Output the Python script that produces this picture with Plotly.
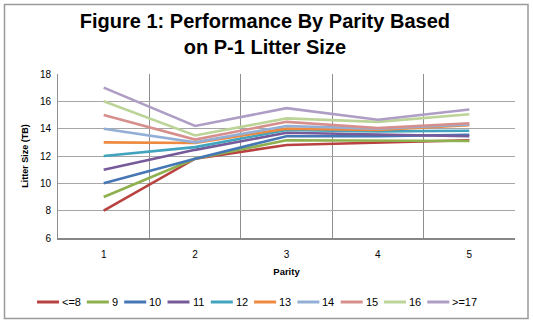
import plotly.graph_objects as go

parity = [1, 2, 3, 4, 5]
series_names = ["<=8", "9", "10", "11", "12", "13", "14", "15", "16", ">=17"]
v_le8 = [8.0, 11.8, 12.8, 12.95, 13.15]
v_9 = [9.0, 11.8, 13.15, 13.15, 13.1]
v_10 = [10.0, 11.8, 13.45, 13.45, 13.55]
v_11 = [11.0, 12.45, 13.7, 13.6, 13.45]
v_12 = [12.0, 12.65, 13.9, 13.8, 13.85]
v_13 = [13.0, 12.95, 14.0, 13.9, 14.25]
v_14 = [14.0, 13.0, 14.2, 14.0, 14.3]
v_15 = [15.0, 13.2, 14.5, 14.05, 14.4]
v_16 = [16.0, 13.5, 14.75, 14.5, 15.05]
v_ge17 = [17.0, 14.2, 15.5, 14.65, 15.4]
values = [v_le8, v_9, v_10, v_11, v_12, v_13, v_14, v_15, v_16, v_ge17]
colors = ["#B8423F", "#8EB04E", "#4677B5", "#765A99", "#41A3BD",
          "#EE8A3F", "#93AFD6", "#D68F8D", "#BDD498", "#AE9DC4"]

fig = go.Figure()
for name, vals, c in zip(series_names, values, colors):
    fig.add_trace(go.Scatter(x=parity, y=vals, name=name, mode="lines",
                             line=dict(color=c, width=2.6), showlegend=False))

L, R, T, B = 58, 18, 74, 86
W, H = 533, 324
pw, ph = W - L - R, H - T - B

def px_x(p):
    return (p - L) / pw

def px_y(p):
    return (H - B - p) / ph

fig.update_layout(
    width=W, height=H,
    margin=dict(l=L, r=R, t=T, b=B, autoexpand=False),
    paper_bgcolor="white", plot_bgcolor="white",
    font=dict(family="Liberation Sans, Arial", color="#000000", size=10),
    title=dict(text="<b>Figure 1: Performance By Parity Based<br>on P-1 Litter Size</b>",
               x=0.497, xanchor="center", y=1 - 28 / H, yanchor="middle",
               font=dict(size=20, family="Liberation Sans, Arial", color="#000")),
    xaxis=dict(range=[0.5, 5.5], tickvals=parity, ticktext=[str(p) for p in parity],
               showgrid=False, zeroline=False, automargin=False,
               showline=True, linecolor="#878787", linewidth=2,
               ticks="", tickfont=dict(size=10), ticklabelstandoff=6,
               minor=dict(tick0=0.5, dtick=1, showgrid=True, gridcolor="#8f8f8f",
                          gridwidth=1, ticks=""),
               title=dict(text="<b>Parity</b>", font=dict(size=9.5), standoff=9)),
    yaxis=dict(range=[6, 18], dtick=2, showgrid=True, gridcolor="#a6a6a6", gridwidth=1,
               zeroline=False, showline=True, linecolor="#8f8f8f", linewidth=1,
               automargin=False, ticklabelstandoff=4,
               ticks="", tickfont=dict(size=10), ticklen=0,
               title=dict(text="<b>Litter Size (TB)</b>", font=dict(size=9), standoff=9)),
    showlegend=False,
)

# Custom single-row legend (Excel style, short line samples)
def text_w(s):
    return sum(6.2 if ch in "<>=" else 5.9 for ch in s)

leg_y = px_y(302)
cursor = 37.0
seg = 22.0
for name, c in zip(series_names, colors):
    fig.add_shape(type="line", xref="paper", yref="paper",
                  x0=px_x(cursor), x1=px_x(cursor + seg), y0=leg_y, y1=leg_y,
                  line=dict(color=c, width=3))
    fig.add_annotation(text=name, xref="paper", yref="paper",
                       x=px_x(cursor + seg + 1), y=leg_y, xanchor="left", yanchor="middle",
                       showarrow=False, font=dict(size=11, color="#000"))
    cursor += seg + 2 + text_w(name) + 7.5

fig.add_shape(type="rect", xref="paper", yref="paper",
              x0=px_x(4.5), x1=px_x(528), y0=px_y(318.5), y1=px_y(4.5),
              line=dict(color="#9a9a9a", width=1.5), layer="below")

fig.write_html("out.html")
